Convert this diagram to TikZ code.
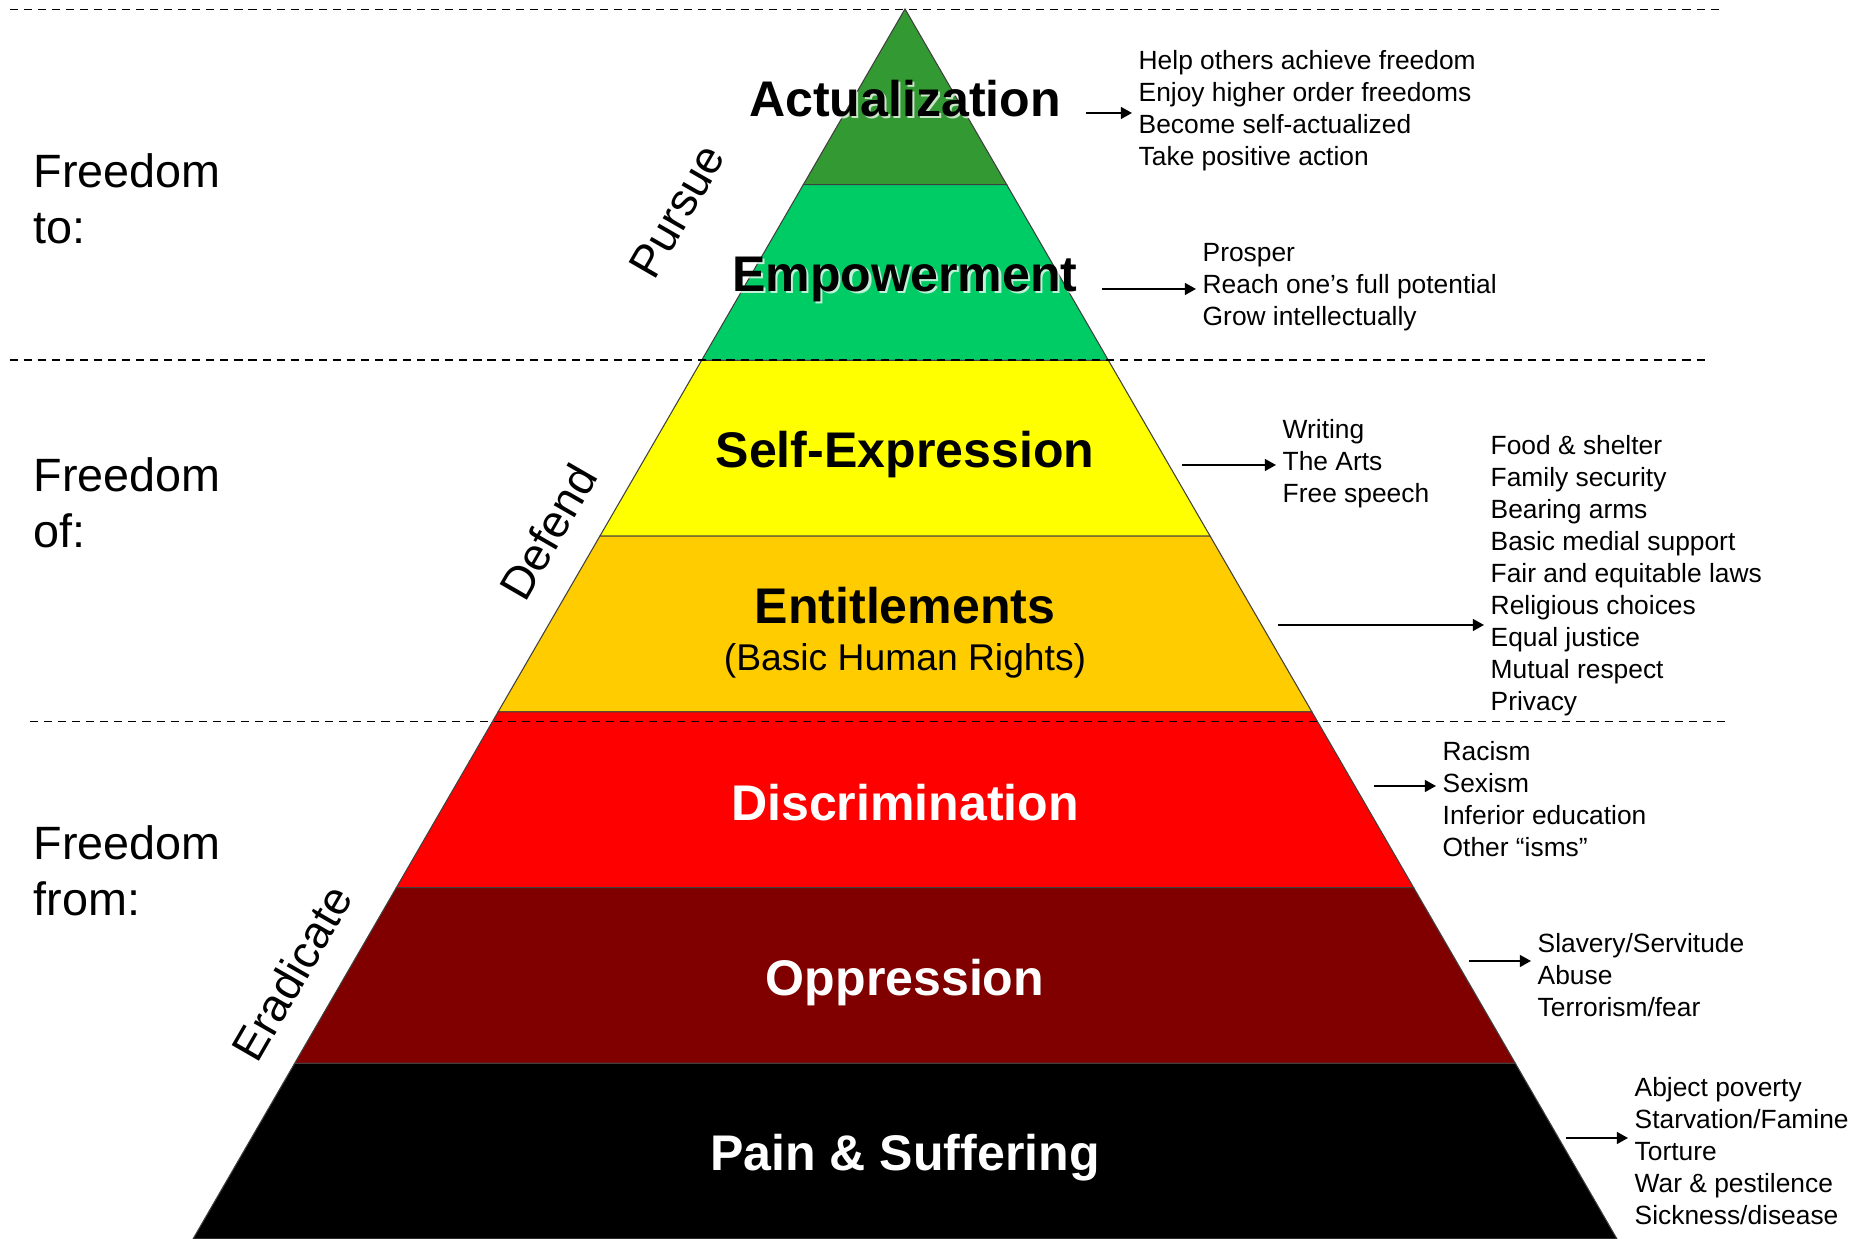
\documentclass[tikz,border=0pt]{standalone}
\usepackage{fontspec}
\setsansfont{Liberation Sans}
\usetikzlibrary{arrows.meta}

\definecolor{actgreen}{RGB}{51,153,51}
\definecolor{empgreen}{RGB}{0,204,102}
\definecolor{expyellow}{RGB}{255,255,0}
\definecolor{entorange}{RGB}{255,204,0}
\definecolor{discred}{RGB}{255,0,0}
\definecolor{oppmaroon}{RGB}{128,0,0}

\begin{document}
\begin{tikzpicture}[
    band/.style={draw=black!75, line width=0.3pt},
    tier/.style={font=\sffamily\bfseries\fontsize{14.25}{17}\selectfont},
    shade/.style={tier, text=white, opacity=0.75, xshift=0.6pt, yshift=-0.6pt},
    sidetext/.style={font=\sffamily\fontsize{13.3}{16}\selectfont, align=left, anchor=west, inner sep=0pt},
    verbtext/.style={font=\sffamily\fontsize{13}{15}\selectfont, rotate=60, inner sep=0pt},
    items/.style={font=\sffamily\fontsize{7.5}{9.1}\selectfont, align=left, anchor=west, inner xsep=0.6mm, inner ysep=0pt},
    pointer/.style={line width=0.55pt, -{Triangle[length=3.2pt,width=3.4pt]}},
    divider/.style={line width=0.55pt, dash pattern=on 2.3pt off 1.7pt}
]
\useasboundingbox (0,0) rectangle (18.70,12.39);

\coordinate (top) at (9.05,12.30);
\coordinate (L1) at (8.033,10.543);  \coordinate (R1) at (10.067,10.543);
\coordinate (L2) at (7.016,8.786);   \coordinate (R2) at (11.084,8.786);
\coordinate (L3) at (5.999,7.029);   \coordinate (R3) at (12.101,7.029);
\coordinate (L4) at (4.981,5.271);   \coordinate (R4) at (13.119,5.271);
\coordinate (L5) at (3.964,3.514);   \coordinate (R5) at (14.136,3.514);
\coordinate (L6) at (2.947,1.757);   \coordinate (R6) at (15.153,1.757);
\coordinate (L7) at (1.93,0);        \coordinate (R7) at (16.17,0);

% pyramid
\draw[band, fill=actgreen] (top) -- (R1) -- (L1) -- cycle;
\draw[band, fill=empgreen] (L1) -- (R1) -- (R2) -- (L2) -- cycle;
\draw[band, fill=expyellow] (L2) -- (R2) -- (R3) -- (L3) -- cycle;
\draw[band, fill=entorange] (L3) -- (R3) -- (R4) -- (L4) -- cycle;
\draw[band, fill=discred] (L4) -- (R4) -- (R5) -- (L5) -- cycle;
\draw[band, fill=oppmaroon] (L5) -- (R5) -- (R6) -- (L6) -- cycle;
\draw[band, fill=black] (L6) -- (R6) -- (R7) -- (L7) -- cycle;

\coordinate (D1_l) at (0.095,12.295);  \coordinate (D1_r) at (17.23,12.295);
\coordinate (D2_l) at (0.095,8.79);    \coordinate (D2_r) at (17.08,8.79);
\coordinate (D3_l) at (0.30,5.175);    \coordinate (D3_r) at (17.26,5.175);

\draw[divider] (D1_l) -- (D1_r);
\draw[divider] (D2_l) -- (D2_r);
\draw[divider] (D3_l) -- (D3_r);

\node[shade] (actshade) at (9.05,11.40) {Actualization};
\node[tier] (act) at (9.05,11.40) {Actualization};
\node[shade] (empshade) at (9.05,9.60) {Empowerment};
\node[tier] (emp) at (9.05,9.60) {Empowerment};
\node[tier] (exp) at (9.05,7.845) {Self-Expression};
\node[tier] (ent) at (9.05,6.335) {Entitlements};
\node[font=\sffamily\fontsize{10.6}{12}\selectfont] (rights) at (9.05,5.785) {(Basic Human Rights)};
\node[tier, text=white] (disc) at (9.05,4.36) {Discrimination};
\node[tier, text=white] (opp) at (9.05,2.565) {Oppression};
\node[tier, text=white] (pain) at (9.05,0.815) {Pain \& Suffering};

\node[sidetext] (fto) at (0.33,10.40) {Freedom\\to:};
\node[sidetext] (fof) at (0.33,7.36) {Freedom\\of:};
\node[sidetext] (ffrom) at (0.33,3.68) {Freedom\\from:};

\node[verbtext] (pursue) at (6.77,10.28) {Pursue};
\node[verbtext] (defend) at (5.48,7.07) {Defend};
\node[verbtext] (eradicate) at (2.92,2.66) {Eradicate};

\node[items] (actlist) at (11.32,11.28) {Help others achieve freedom\\Enjoy higher order freedoms\\Become self-actualized\\Take positive action};
\node[items] (emplist) at (11.96,9.515) {Prosper\\Reach one’s full potential\\Grow intellectually};
\node[items] (explist) at (12.76,7.75) {Writing\\The Arts\\Free speech};
\node[items] (entlist) at (14.84,6.635) {Food \& shelter\\Family security\\Bearing arms\\Basic medial support\\Fair and equitable laws\\Religious choices\\Equal justice\\Mutual respect\\Privacy};
\node[items] (disclist) at (14.36,4.40) {Racism\\Sexism\\Inferior education\\Other “isms”};
\node[items] (opplist) at (15.31,2.635) {Slavery/Servitude\\Abuse\\Terrorism/fear};
\node[items] (painlist) at (16.28,0.875) {Abject poverty\\Starvation/Famine\\Torture\\War \& pestilence\\Sickness/disease};

% arrows to the lists
\coordinate (a1) at (10.86,11.26);
\coordinate (a2) at (11.02,9.50);
\coordinate (a3) at (11.82,7.74);
\coordinate (a4) at (12.78,6.14);
\coordinate (a5) at (13.74,4.53);
\coordinate (a6) at (14.69,2.78);
\coordinate (a7) at (15.66,1.01);
\draw[pointer] (a1) -- (a1 -| actlist.west);
\draw[pointer] (a2) -- (a2 -| emplist.west);
\draw[pointer] (a3) -- (a3 -| explist.west);
\draw[pointer] (a4) -- (a4 -| entlist.west);
\draw[pointer] (a5) -- (a5 -| disclist.west);
\draw[pointer] (a6) -- (a6 -| opplist.west);
\draw[pointer] (a7) -- (a7 -| painlist.west);

\end{tikzpicture}
\end{document}
